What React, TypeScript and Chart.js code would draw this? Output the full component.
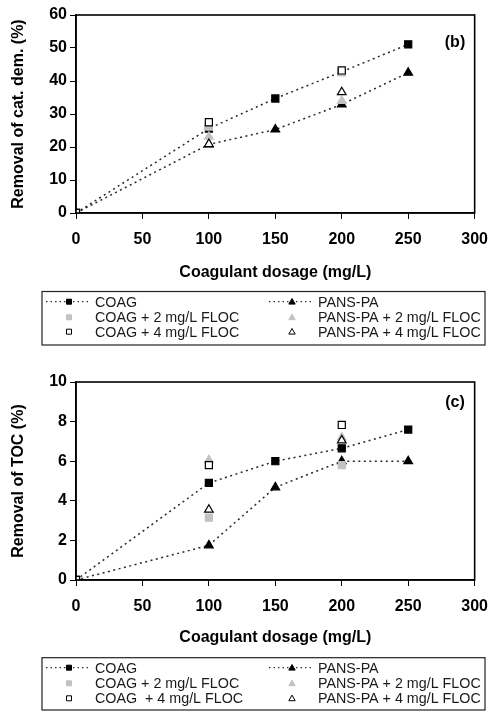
import { useEffect, useRef } from "react";
import { Chart, registerables } from "chart.js";

Chart.register(...registerables);

// ---------- data ----------
const dosage = [0, 100, 150, 200, 250];
const xMin = 0;
const xMax = 300;
const xStep = 50;

// Panel (b): removal of cationic demand (%)
const catCOAG = [0, 25.6, 34.7, 42.8, 51.1];
const catCOAG2 = [0, 26.2, null, 42.6, null];
const catCOAG4 = [0, 27.5, null, 43.2, null];
const catPANS = [0, 20.8, 25.3, 32.9, 42.5];
const catPANS2 = [0, 23.1, null, 34.0, null];
const catPANS4 = [0, 20.9, null, 36.6, null];

// Panel (c): removal of TOC (%)
const tocCOAG = [0, 4.9, 6.0, 6.65, 7.6];
const tocCOAG2 = [0, 3.15, null, 5.8, null];
const tocCOAG4 = [0, 5.8, null, 7.83, null];
const tocPANS = [0, 1.75, 4.68, 6.0, 6.0];
const tocPANS2 = [0, 6.05, null, 7.2, null];
const tocPANS4 = [0, 3.55, null, 7.05, null];

const labelsB = [
  "COAG",
  "COAG + 2 mg/L FLOC",
  "COAG + 4 mg/L FLOC",
  "PANS-PA",
  "PANS-PA + 2 mg/L FLOC",
  "PANS-PA + 4 mg/L FLOC",
];
const labelsC = [
  "COAG",
  "COAG + 2 mg/L FLOC",
  "COAG  + 4 mg/L FLOC",
  "PANS-PA",
  "PANS-PA + 2 mg/L FLOC",
  "PANS-PA + 4 mg/L FLOC",
];

const xTitle = "Coagulant dosage (mg/L)";
const yTitleB = "Removal of cat. dem. (%)";
const yTitleC = "Removal of TOC (%)";

// ---------- styles ----------
const FONT = '"Liberation Sans", Arial, Helvetica, sans-serif';
type Kind = "sqFill" | "sqGray" | "sqOpen" | "triFill" | "triGray" | "triOpen";
const kinds: Kind[] = ["sqFill", "sqGray", "sqOpen", "triFill", "triGray", "triOpen"];
const hasLine = [true, false, false, true, false, false];
const drawOrder = [2, 1, 0, 2, 1, 0];
const GRAY = "#c2c2c2";

function kindStyle(k: Kind) {
  const isSq = k.startsWith("sq");
  const fill = k.endsWith("Fill") ? "#000" : k.endsWith("Gray") ? GRAY : "#fff";
  const border = k.endsWith("Gray") ? GRAY : "#000";
  return {
    pointStyle: isSq ? "rect" : "triangle",
    pointRadius: 5,
    pointBackgroundColor: fill,
    pointBorderColor: border,
    pointBorderWidth: 1.2,
  };
}

function pts(vals: (number | null)[]) {
  return dosage
    .map((x, i) => ({ x, y: vals[i] }))
    .filter((p) => p.y !== null);
}

function drawMarker(ctx: CanvasRenderingContext2D, k: Kind, x: number, y: number) {
  const st = kindStyle(k);
  ctx.save();
  ctx.fillStyle = st.pointBackgroundColor;
  ctx.strokeStyle = st.pointBorderColor;
  ctx.lineWidth = 1;
  ctx.beginPath();
  if (k.startsWith("sq")) {
    ctx.rect(x - 2.5, y - 2.5, 5, 5);
  } else {
    ctx.moveTo(x, y - 3.2);
    ctx.lineTo(x + 3.2, y + 2.4);
    ctx.lineTo(x - 3.2, y + 2.4);
    ctx.closePath();
  }
  ctx.fill();
  ctx.stroke();
  ctx.restore();
}

const framePlugin = {
  id: "frame",
  afterDraw(chart: any, _args: any, opts: any) {
    const { ctx, chartArea: a } = chart;
    ctx.save();
    ctx.strokeStyle = "#000";
    ctx.lineWidth = 1.6;
    ctx.strokeRect(a.left, a.top, a.right - a.left, a.bottom - a.top);

    ctx.fillStyle = "#000";
    ctx.font = `bold 16px ${FONT}`;
    ctx.textAlign = "center";
    ctx.textBaseline = "middle";
    ctx.fillText(opts.panel, opts.panelX, opts.panelY);

    // legend box
    const L = opts.legend;
    ctx.strokeStyle = "#222";
    ctx.lineWidth = 1.2;
    ctx.strokeRect(L.left, L.top, L.right - L.left, L.bottom - L.top);
    ctx.font = `14.3px ${FONT}`;
    ctx.textAlign = "left";
    ctx.fillStyle = "#1a1a1a";
    const labels: string[] = opts.labels;
    labels.forEach((lab, i) => {
      const col = i < 3 ? 0 : 1;
      const row = i % 3;
      const cx = L.cols[col];
      const cy = L.rows[row];
      if (hasLine[i]) {
        ctx.save();
        ctx.strokeStyle = "#333";
        ctx.lineWidth = 1.2;
        ctx.setLineDash([1.5, 3]);
        ctx.beginPath();
        ctx.moveTo(cx - 23, cy);
        ctx.lineTo(cx + 20, cy);
        ctx.stroke();
        ctx.restore();
      }
      drawMarker(ctx, kinds[i], cx, cy);
      ctx.fillStyle = "#1a1a1a";
      ctx.fillText(lab, cx + 26, cy + 1);
    });
    ctx.restore();
  },
};

type PanelProps = {
  top: number;
  height: number;
  series: (number | null)[][];
  labels: string[];
  yTitle: string;
  yMax: number;
  yStep: number;
  padTop: number;
  padRight: number;
  plotBottom: number;
  xAxisHeight: number;
  panel: string;
  panelY: number;
  legend: any;
};

function Panel(p: PanelProps) {
  const ref = useRef<HTMLCanvasElement | null>(null);
  useEffect(() => {
    if (!ref.current) return;
    const datasets = p.series.map((vals, i) => ({
      label: p.labels[i],
      data: pts(vals),
      showLine: hasLine[i],
      borderColor: "#2a2a2a",
      borderWidth: 1.5,
      borderDash: [2, 3.5],
      fill: false,
      tension: 0,
      order: drawOrder[i],
      ...kindStyle(kinds[i]),
    }));
    const chart = new Chart(ref.current, {
      type: "scatter",
      data: { datasets: datasets as any },
      plugins: [framePlugin as any],
      options: {
        animation: false,
        responsive: false,
        devicePixelRatio: 1,
        layout: {
          padding: {
            top: p.padTop,
            right: p.padRight,
            left: 0,
            bottom: p.height - p.plotBottom - p.xAxisHeight,
          },
        },
        plugins: {
          legend: { display: false },
          tooltip: { enabled: false },
          frame: {
            panel: p.panel,
            panelX: 455,
            panelY: p.panelY,
            labels: p.labels,
            legend: p.legend,
          },
        } as any,
        scales: {
          x: {
            type: "linear",
            min: xMin,
            max: xMax,
            afterFit: (s: any) => {
              s.height = p.xAxisHeight;
            },
            ticks: {
              stepSize: xStep,
              color: "#000",
              padding: 11,
              font: { family: FONT, size: 16, weight: "bold" },
            },
            grid: {
              drawOnChartArea: false,
              drawTicks: true,
              tickLength: 6,
              color: "#000",
              lineWidth: 1,
            },
            border: { display: true, color: "#000", width: 1.6 },
            title: {
              display: true,
              text: xTitle,
              color: "#000",
              padding: { top: 4, bottom: 4 },
              font: { family: FONT, size: 16, weight: "bold" },
            },
          },
          y: {
            type: "linear",
            min: 0,
            max: p.yMax,
            afterFit: (s: any) => {
              s.width = 76;
            },
            ticks: {
              stepSize: p.yStep,
              color: "#000",
              padding: 3,
              font: { family: FONT, size: 16, weight: "bold" },
            },
            grid: {
              drawOnChartArea: false,
              drawTicks: true,
              tickLength: 6,
              color: "#000",
              lineWidth: 1,
            },
            border: { display: true, color: "#000", width: 1.6 },
            title: {
              display: true,
              text: p.yTitle,
              color: "#000",
              padding: { top: 8.5, bottom: 4 },
              font: { family: FONT, size: 16, weight: "bold" },
            },
          },
        },
      } as any,
    });
    return () => chart.destroy();
  }, []);
  return (
    <canvas
      ref={ref}
      width={499}
      height={p.height}
      style={{
        position: "absolute",
        left: 0,
        top: p.top,
        width: 499,
        height: p.height,
        display: "block",
      }}
    />
  );
}

export default function App() {
  return (
    <div
      style={{
        position: "absolute",
        left: 0,
        top: 0,
        width: 499,
        height: 711,
        background: "#fff",
        overflow: "hidden",
      }}
    >
      <Panel
        top={0}
        height={355}
        series={[catCOAG, catCOAG2, catCOAG4, catPANS, catPANS2, catPANS4]}
        labels={labelsB}
        yTitle={yTitleB}
        yMax={60}
        yStep={10}
        padTop={15}
        padRight={16}
        plotBottom={213}
        xAxisHeight={73.5}
        panel="(b)"
        panelY={43}
        legend={{
          left: 42,
          right: 485,
          top: 291.5,
          bottom: 345,
          cols: [69, 292],
          rows: [301.7, 317.3, 331.7],
        }}
      />
      <Panel
        top={355}
        height={356}
        series={[tocCOAG, tocCOAG2, tocCOAG4, tocPANS, tocPANS2, tocPANS4]}
        labels={labelsC}
        yTitle={yTitleC}
        yMax={10}
        yStep={2}
        padTop={27}
        padRight={17}
        plotBottom={225}
        xAxisHeight={71.5}
        panel="(c)"
        panelY={48}
        legend={{
          left: 42,
          right: 485,
          top: 302.7,
          bottom: 355,
          cols: [69, 292],
          rows: [312.7, 328.3, 343.3],
        }}
      />
    </div>
  );
}
